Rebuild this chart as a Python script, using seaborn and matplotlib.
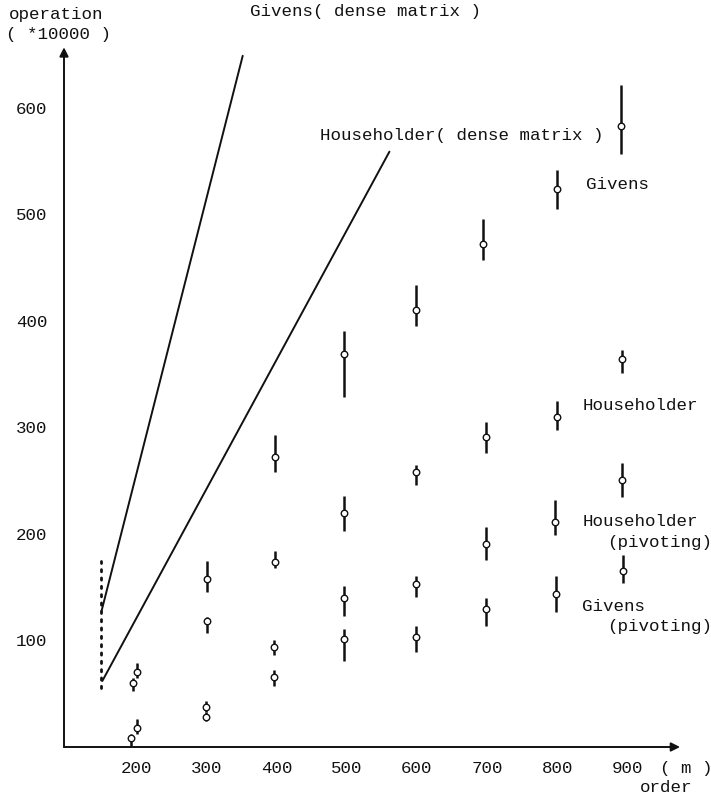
import numpy as np
import pandas as pd
import matplotlib
matplotlib.use("Agg")
import matplotlib.pyplot as plt
import seaborn as sns

# ---------------- data ----------------
x_ticks = [200, 300, 400, 500, 600, 700, 800, 900]
y_ticks = [100, 200, 300, 400, 500, 600]

givens_x = [201, 301, 398, 496, 599, 694, 800, 891]
givens_y = [70.8, 157.5, 272.6, 369, 410, 472.6, 523.6, 583]
givens_lo = [65, 146, 258, 329, 395, 457.5, 505, 556.6]
givens_hi = [79, 174.5, 293, 391, 434, 496, 542, 621.7]

house_x = [196, 301, 398, 496, 599, 698, 800, 892]
house_y = [60, 118, 173.5, 220, 258, 291.5, 310, 364]
house_lo = [53, 107, 168, 203, 246, 276, 298, 351]
house_hi = [65, 122, 184, 236, 265, 304.7, 324.5, 372.6]

housepiv_x = [201, 300, 397, 496, 599, 698, 797, 892]
housepiv_y = [18, 38, 94, 140, 153, 190.6, 211, 251]
housepiv_lo = [12, 33, 86, 123, 140.5, 175.5, 199, 235]
housepiv_hi = [26, 43, 100, 151, 161, 206.6, 232, 267]

givpiv_x = [193, 300, 397, 496, 599, 698, 798, 894]
givpiv_y = [8.5, 28, 66, 101, 103, 130, 144, 165]
givpiv_lo = [1, 24, 57, 81, 89.6, 114, 127, 154]
givpiv_hi = [12, 33, 72, 111, 114, 139.6, 161, 180]

series_names = ["Givens", "Householder", "Householder (pivoting)", "Givens (pivoting)"]

# dense-matrix reference lines
givens_dense_x = [151, 352]
givens_dense_y = [128, 649]
house_dense_x = [152, 561]
house_dense_y = [62, 559]

# dotted start marker
dotted_x = [150, 150]
dotted_y = [55, 175]

# labels (text, x, y)
label_texts = ["Givens( dense matrix )", "Householder( dense matrix )", "Givens",
               "Householder", "Householder", "(pivoting)", "Givens", "(pivoting)"]
label_x = [362, 462, 841, 836, 836, 871, 836, 871]
label_y = [691, 574, 528, 321, 212, 192, 132, 113]

# ---------------- style ----------------
sns.set_theme(style="white")
plt.rcParams["font.family"] = ["Liberation Mono", "DejaVu Sans"]
ink = "#111111"
fs = 12.6

fig = plt.figure(figsize=(7.11, 7.94), dpi=100)
W, H = 711, 794
ax = fig.add_axes([64 / W, 1 - 747 / H, 1 - 64 / W, 747 / H])
x_left, x_right = 97.4, 1019.1
ax.set_xlim(x_left, x_right)
ax.set_ylim(0, 701.4)
for s in ax.spines.values():
    s.set_visible(False)

# build long-form frame
rows = []
for name, xs, ys, lo, hi in zip(
        series_names,
        [givens_x, house_x, housepiv_x, givpiv_x],
        [givens_y, house_y, housepiv_y, givpiv_y],
        [givens_lo, house_lo, housepiv_lo, givpiv_lo],
        [givens_hi, house_hi, housepiv_hi, givpiv_hi]):
    for a, b, c, d in zip(xs, ys, lo, hi):
        rows.append(dict(series=name, m=a, ops=b, lo=c, hi=d))
pts = pd.DataFrame(rows)

# error bars
ax.vlines(pts["m"], pts["lo"], pts["hi"], color=ink, lw=1.8, zorder=2)
# markers
sns.scatterplot(data=pts, x="m", y="ops", ax=ax, marker="o", s=22,
                facecolor="white", edgecolor=ink, linewidth=1.0, zorder=3,
                legend=False)

dense = pd.DataFrame(dict(
    m=givens_dense_x + house_dense_x,
    ops=givens_dense_y + house_dense_y,
    kind=["g", "g", "h", "h"]))
sns.lineplot(data=dense, x="m", y="ops", units="kind", estimator=None,
             color=ink, lw=1.4, ax=ax, sort=False)

ax.plot(dotted_x, dotted_y, color=ink, lw=2.0, linestyle=(0, (0.8, 2.2)),
        dash_capstyle="round")

for t, xx, yy in zip(label_texts, label_x, label_y):
    ax.text(xx, yy, t, ha="left", va="center", fontsize=fs, color=ink,
            clip_on=False)

# axes with arrows
arrow = dict(arrowstyle="-|>", lw=1.4, color=ink, mutation_scale=13,
             shrinkA=0, shrinkB=0)
ax.annotate("", xy=(x_left, 657), xytext=(x_left, 0), arrowprops=arrow,
            annotation_clip=False)
ax.annotate("", xy=(975, 0), xytext=(x_left, 0), arrowprops=arrow,
            annotation_clip=False)

ax.set_xticks(x_ticks)
ax.set_yticks(y_ticks)
ax.set_xticklabels([str(v) for v in x_ticks])
ax.set_yticklabels([str(v) for v in y_ticks])
ax.tick_params(axis="x", direction="in", length=4, width=1.2, colors=ink,
               labelsize=fs, pad=10)
ax.tick_params(axis="y", direction="in", length=4, width=1.2, colors=ink,
               labelsize=fs, pad=12)
ax.set_xlabel("")
ax.set_ylabel("")

fig.text(9 / W, 1 - 15 / H, "operation", ha="left", va="center",
         fontsize=fs, color=ink)
fig.text(6 / W, 1 - 34 / H, "( *10000 )", ha="left", va="center",
         fontsize=fs, color=ink)
fig.text(660 / W, 1 - 768 / H, "( m )", ha="left", va="center",
         fontsize=fs, color=ink)
fig.text(640 / W, 1 - 787 / H, "order", ha="left", va="center",
         fontsize=fs, color=ink)

fig.savefig("out.png", dpi=100, facecolor="white")
